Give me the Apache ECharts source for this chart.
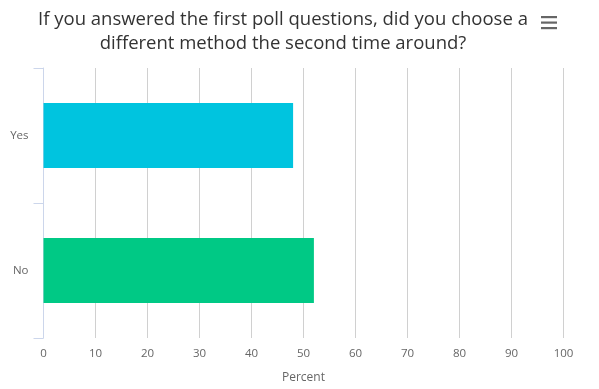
<!DOCTYPE html>
<html><head><meta charset="utf-8">
<script src="https://cdn.jsdelivr.net/npm/echarts@6/dist/echarts.min.js"></script>
<style>html,body{margin:0;padding:0;background:#fff}#c{width:599px;height:389px}</style>
</head><body><div id="c"></div>
<script>
const categories = ['Yes', 'No'];
const values = [48, 52];
const barColors = ['#00c4df', '#00c985'];
const xTicks = [0, 100, 10];

const chart = echarts.init(document.getElementById('c'), null, {renderer: 'canvas'});
chart.setOption({
  animation: false,
  title: {
    text: 'If you answered the first poll questions, did you choose a\ndifferent method the second time around?',
    left: 283, top: 8, textAlign: 'center', padding: 0,
    textStyle: {fontFamily: 'Open Sans', fontSize: 18.5, fontWeight: 'normal', color: '#333', lineHeight: 24}
  },
  graphic: [
    {type: 'rect', shape: {x: 541, y: 16, width: 16, height: 2.2}, style: {fill: '#666'}},
    {type: 'rect', shape: {x: 541, y: 21.5, width: 16, height: 2.2}, style: {fill: '#666'}},
    {type: 'rect', shape: {x: 541, y: 27, width: 16, height: 2.2}, style: {fill: '#666'}}
  ],
  grid: {left: 43.5, right: 35.5, top: 68, bottom: 44, containLabel: false},
  xAxis: {
    type: 'value', min: xTicks[0], max: xTicks[1], interval: xTicks[2],
    name: 'Percent', nameLocation: 'middle', nameGap: 34,
    nameTextStyle: {fontFamily: 'Open Sans', fontSize: 12, color: '#666'},
    axisLine: {show: false}, axisTick: {show: false},
    axisLabel: {fontFamily: 'Open Sans', fontSize: 11.5, color: '#666', margin: 10},
    splitLine: {show: true, lineStyle: {color: '#d0d0d0', width: 1}}
  },
  yAxis: {
    type: 'category', data: categories, inverse: true,
    axisLine: {show: true, lineStyle: {color: '#ccd6eb'}},
    axisTick: {show: true, length: 10, lineStyle: {color: '#ccd6eb'}},
    axisLabel: {fontFamily: 'Open Sans', fontSize: 11.5, color: '#666', margin: 15},
    splitLine: {show: false}
  },
  series: [{
    type: 'bar', barCategoryGap: '52%',
    data: values.map((v, i) => ({value: v, itemStyle: {color: barColors[i]}}))
  }]
});
</script></body></html>
